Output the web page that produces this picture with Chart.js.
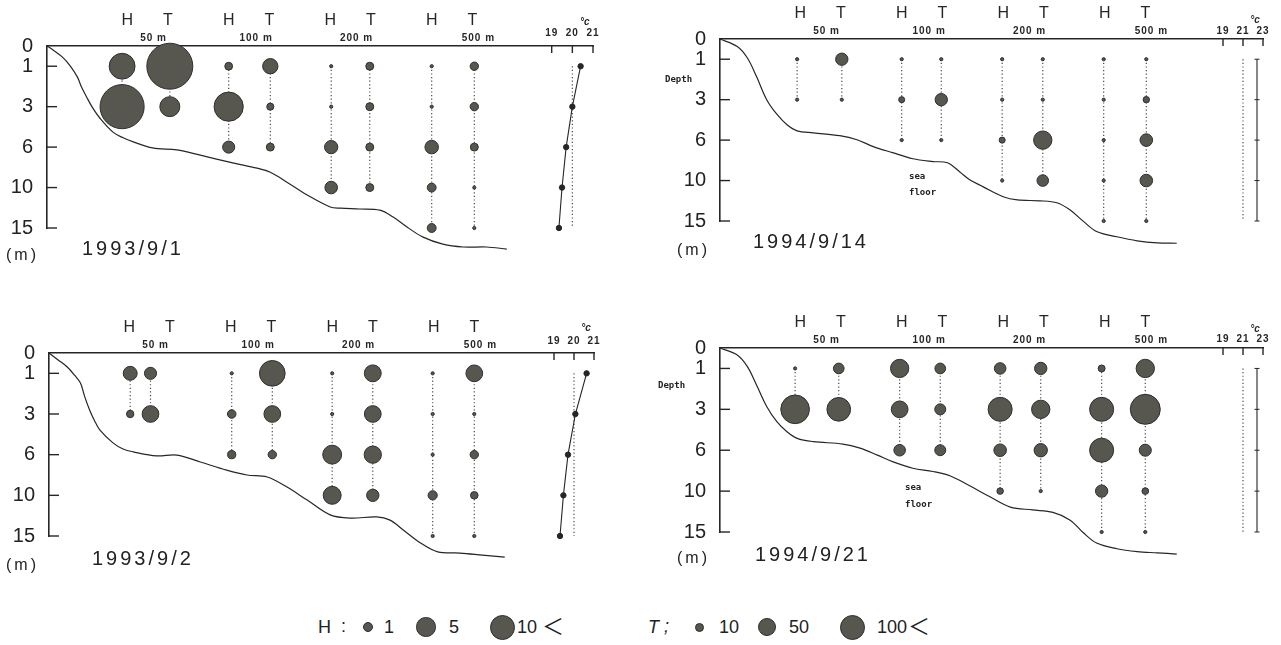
<!DOCTYPE html>
<html><head><meta charset="utf-8">
<script src="https://cdn.jsdelivr.net/npm/chart.js@4.4.1/dist/chart.umd.min.js"></script>
<style>
html,body{margin:0;padding:0;background:#fff;}
#wrap{position:relative;width:1281px;height:645px;overflow:hidden;background:#fff;font-family:Arial,"Liberation Sans",sans-serif;color:#222;}
canvas{position:absolute;}
.t{position:absolute;white-space:nowrap;line-height:1;}
.date{font-size:20px;letter-spacing:3px;}
.unit{font-size:16px;letter-spacing:3px;}
.small{font-family:"DejaVu Sans Mono",monospace;font-weight:bold;font-size:9px;}
.lg{font-size:18px;}
.cjk{font-family:"Noto Sans CJK JP","Noto Sans CJK SC",sans-serif;font-size:22px;}
.it{font-style:italic;}
.dot{position:absolute;border-radius:50%;background:#57574f;border:1px solid #2e2e2e;box-sizing:border-box;}
</style></head><body><div id="wrap">
<canvas id="c1" width="640" height="300" style="left:0;top:0"></canvas>
<canvas id="c2" width="641" height="300" style="left:640px;top:0"></canvas>
<canvas id="c3" width="640" height="300" style="left:0;top:300px"></canvas>
<canvas id="c4" width="641" height="300" style="left:640px;top:300px"></canvas>
</div>
<script>
// ---------------- data ----------------
const DEPTH_TICKS = [0, 1, 3, 6, 10, 15];            // m
const SAMPLE_DEPTHS = [1, 3, 6, 10, 15];             // m
const STATION_LABELS = ['50 m', '100 m', '200 m', '500 m'];
const STATION_DEPTH_COUNT = [2, 3, 4, 5];            // sampled depths per station
const DATES = ['1993/9/1', '1994/9/14', '1993/9/2', '1994/9/21'];
const TEMP_TICKS_93 = [19, 20, 21];
const TEMP_TICKS_94 = [19, 21, 23];
const LEGEND_H = ['1', '5', '10'];
const LEGEND_T = ['10', '50', '100'];

// 1993/9/1  (H and T abundance by station x depth)
const H_930901 = [[11, 32], [1, 14, 2.4], [0, 0, 2.9, 2.6], [0, 0, 3, 1.3, 1.3]];
const T_930901 = [[333, 63], [37, 8, 10], [10, 10, 10, 10], [11, 11, 10, 0, 0]];
const TEMP_930901 = [20.4, 20.0, 19.7, 19.5, 19.35];
const FLOOR_POS_930901 = [0, .06, .15, .23, .30, .34, .39, .45, .52, .65, .75, .85, 1.04, 1.28, 1.51, 1.83, 2.07, 2.20, 2.36, 2.56, 2.79, 2.89, 3.08, 3.28, 3.41, 3.55, 3.70, 3.90, 4.10, 4.33, 4.53];
const FLOOR_DEPTH_930901 = [0, .2, .54, .99, 1.54, 2.03, 2.52, 3.09, 3.84, 4.89, 5.31, 5.61, 6.08, 6.28, 6.8, 7.56, 8.08, 8.48, 9.44, 10.9, 12.4, 12.55, 12.65, 12.8, 13.65, 14.9, 16.1, 17.0, 17.35, 17.35, 17.6];

// 1994/9/14
const H_940914 = [[0, 0], [0, 0.6, 0], [0, 0, 0.6, 0], [0, 0, 0, 0, 0]];
const T_940914 = [[24, 0], [0, 24, 0], [0, 0, 53, 21], [0, 6.4, 25, 25, 0]];
const TEMP_940914 = [22.4, 22.4, 22.4, 22.4, 22.4];
const FLOOR_POS_940914 = [0, .17, .27, .36, .46, .56, .66, .76, .92, 1.18, 1.35, 1.51, 1.70, 1.90, 2.10, 2.24, 2.36, 2.46, 2.59, 2.79, 2.93, 3.15, 3.32, 3.45, 3.58, 3.71, 3.91, 4.11, 4.31, 4.50];
const FLOOR_DEPTH_940914 = [0, .37, .94, 1.86, 3.0, 4.08, 4.86, 5.31, 5.46, 5.67, 5.97, 6.64, 7.24, 7.84, 8.12, 8.24, 9.12, 9.92, 10.75, 12.0, 12.4, 12.5, 12.75, 13.65, 15.05, 16.3, 16.95, 17.45, 17.7, 17.75];

// 1993/9/2
const H_930902 = [[3.2, 0.9], [0, 1.2, 1.1], [0, 0, 5.9, 5.3], [0, 0, 0, 1.4, 0]];
const T_930902 = [[23, 44], [104, 44, 11], [45, 44, 47, 24], [44, 0, 11, 9, 0]];
const TEMP_930902 = [20.63, 20.07, 19.7, 19.47, 19.3];
const FLOOR_POS_930902 = [0, .09, .18, .25, .31, .35, .40, .45, .50, .63, .73, .83, 1.06, 1.26, 1.49, 1.75, 1.95, 2.15, 2.34, 2.54, 2.77, 2.97, 3.23, 3.36, 3.49, 3.66, 3.83, 4.05, 4.27, 4.49];
const FLOOR_DEPTH_930902 = [0, .34, .69, 1.08, 1.48, 2.12, 2.8, 3.51, 4.17, 5.13, 5.58, 5.79, 6.12, 6.04, 6.72, 7.52, 8.0, 8.2, 9.16, 10.55, 12.4, 12.8, 12.65, 13.05, 14.25, 15.85, 16.95, 17.1, 17.35, 17.6];

// 1994/9/21
const H_940921 = [[0, 13.5], [5.5, 4.6, 2.2], [2.2, 9.5, 2.6, 0.7], [0.8, 9.5, 9.5, 2.5, 0]];
const T_940921 = [[18, 88], [18, 19, 19], [24, 53, 28, 0], [53, 142, 23, 7, 0]];
const TEMP_940921 = [22.4, 22.4, 22.4, 22.4, 22.4];
const FLOOR_POS_940921 = [0, .17, .27, .36, .46, .56, .66, .76, .92, 1.21, 1.38, 1.55, 1.70, 1.90, 2.10, 2.27, 2.46, 2.66, 2.86, 3.08, 3.28, 3.45, 3.58, 3.71, 3.91, 4.11, 4.31, 4.50];
const FLOOR_DEPTH_940921 = [0, .34, .91, 1.81, 2.86, 3.9, 4.65, 5.13, 5.37, 5.55, 5.85, 6.48, 7.12, 7.76, 8.08, 8.52, 9.48, 10.7, 11.95, 12.3, 12.6, 13.55, 15.1, 16.35, 17.05, 17.4, 17.55, 17.7];

// ---------------- styles / layout ----------------
const INK = '#262626', FILL = '#57574f', EDGE = '#2e2e2e', DOTC = '#4a4a4a';
const DEPTH_LEVELS = [0, 0.5, 1.5, 2.5, 3.5, 4.5]; // axis spacing of DEPTH_TICKS
const DIST_LABEL_POS = [1.05, 2.06, 3.05, 4.25];
const PX_PER_UNIT = 101.5;

function depthToLevel(d) {
  const T = DEPTH_TICKS, L = DEPTH_LEVELS;
  for (let i = 1; i < T.length; i++) {
    if (d <= T[i]) return L[i-1] + (d - T[i-1]) / (T[i] - T[i-1]) * (L[i] - L[i-1]);
  }
  const n = T.length - 1;
  return L[n] + (d - T[n]) / (T[n] - T[n-1]) * (L[n] - L[n-1]);
}
function levelToDepth(l) {
  const T = DEPTH_TICKS, L = DEPTH_LEVELS;
  for (let i = 1; i < L.length; i++) {
    if (l <= L[i]) return T[i-1] + (l - L[i-1]) / (L[i] - L[i-1]) * (T[i] - T[i-1]);
  }
  const n = L.length - 1;
  return T[n] + (l - L[n]) / (L[n] - L[n-1]) * (T[n] - T[n-1]);
}
class DepthScale extends Chart.LinearScale {
  static id = 'depth';
  static defaults = Chart.LinearScale.defaults;
  buildTicks() { return DEPTH_TICKS.map(v => ({value: v})); }
  getPixelForValue(v) {
    if (v === null || v === undefined) return NaN;
    return this.getPixelForDecimal(depthToLevel(v) / depthToLevel(15));
  }
  getValueForPixel(p) { return levelToDepth(this.getDecimalForPixel(p) * depthToLevel(15)); }
}
Chart.register(DepthScale);
Chart.defaults.font.family = 'Arial, "Liberation Sans", sans-serif';

function radius(kind, v) {
  if (!v) return 1.6;
  return (kind === 'H' ? 3.9 : 1.26) * Math.sqrt(v);
}

const PANELS = [
  {id: 'c1', w: 640, h: 300, area: {l: 47, t: 46, r: 593, b: 228}, H: H_930901, T: T_930901, temp: TEMP_930901,
   fx: FLOOR_POS_930901, fd: FLOOR_DEPTH_930901, tticks: TEMP_TICKS_93, tMin: -5.44, tDy: 12.5, degDy: 24, tempDots: true,
   cols: [[0.74, 1.21], [1.79, 2.20], [2.80, 3.18], [3.79, 4.21]]},
  {id: 'c2', w: 641, h: 300, area: {l: 80, t: 39, r: 623, b: 221}, H: H_940914, T: T_940914, temp: TEMP_940914,
   fx: FLOOR_POS_940914, fd: FLOOR_DEPTH_940914, tticks: TEMP_TICKS_94, tMin: -31.3, tDy: 8, degDy: 19, tempDots: false,
   cols: [[0.76, 1.20], [1.79, 2.18], [2.78, 3.18], [3.78, 4.20]]},
  {id: 'c3', w: 640, h: 300, area: {l: 49, t: 53, r: 594, b: 236}, H: H_930902, T: T_930902, temp: TEMP_930902,
   fx: FLOOR_POS_930902, fd: FLOOR_DEPTH_930902, tticks: TEMP_TICKS_93, tMin: -6.25, tDy: 12, degDy: 25, tempDots: true,
   cols: [[0.80, 1.00], [1.80, 2.20], [2.79, 3.19], [3.78, 4.19]]},
  {id: 'c4', w: 641, h: 300, area: {l: 80, t: 48, r: 623, b: 232}, H: H_940921, T: T_940921, temp: TEMP_940921,
   fx: FLOOR_POS_940921, fd: FLOOR_DEPTH_940921, tticks: TEMP_TICKS_94, tMin: -31.3, tDy: 9, degDy: 19, tempDots: false,
   cols: [[0.74, 1.17], [1.77, 2.17], [2.76, 3.16], [3.76, 4.19]]}
];

const decor = {
  id: 'decor',
  afterDraw(chart, args, o) {
    const {ctx, chartArea: ca} = chart;
    const {x, y, xt} = chart.scales;
    ctx.save();
    ctx.strokeStyle = INK; ctx.fillStyle = INK; ctx.lineWidth = 1.4;
    const seg = (x1, y1, x2, y2) => { ctx.beginPath(); ctx.moveTo(x1, y1); ctx.lineTo(x2, y2); ctx.stroke(); };
    DEPTH_TICKS.slice(1).forEach(d => { const py = y.getPixelForValue(d); seg(ca.left, py, ca.left + 10, py); });
    ctx.textAlign = 'center'; ctx.textBaseline = 'middle';
    ctx.font = '16px Arial, "Liberation Sans", sans-serif';
    STATION_LABELS.forEach((s, i) => {
      ctx.fillText('H', x.getPixelForValue(i + 1 - 0.21), ca.top - 25.5);
      ctx.fillText('T', x.getPixelForValue(i + 1 + 0.19), ca.top - 25.5);
    });
    ctx.font = 'bold 10px Arial, "Liberation Sans", sans-serif';
    ctx.letterSpacing = '1px';
    STATION_LABELS.forEach((s, i) => ctx.fillText(s, x.getPixelForValue(DIST_LABEL_POS[i]), ca.top - 8));
    o.tticks.forEach(t => {
      const px = xt.getPixelForValue(t);
      seg(px, ca.top, px, ca.top + 7);
      ctx.fillText(String(t), px, ca.top - o.tDy);
    });
    ctx.letterSpacing = '0px';
    ctx.font = 'italic bold 10px Arial, "Liberation Sans", sans-serif';
    ctx.fillText('°c', xt.getPixelForValue(o.tticks[1] + 0.6 * (o.tticks[2] - o.tticks[1])), ca.top - o.degDy);
    ctx.restore();
  }
};

function buildDatasets(p) {
  const ds = [];
  ds.push({data: p.fx.map((x, i) => ({x, y: p.fd[i]})), showLine: true, borderColor: INK, borderWidth: 1.2,
           pointRadius: 0, tension: 0.35, clip: false, order: 5});
  STATION_LABELS.forEach((s, i) => {
    const n = STATION_DEPTH_COUNT[i];
    ['H', 'T'].forEach((kind, j) => {
      const x = p.cols[i][j];
      ds.push({data: [{x, y: SAMPLE_DEPTHS[0]}, {x, y: SAMPLE_DEPTHS[n - 1]}], showLine: true, borderColor: DOTC,
               borderWidth: 1.2, borderDash: [1.2, 2.4], pointRadius: 0, clip: false, order: 4});
      const vals = (kind === 'H' ? p.H : p.T)[i];
      ds.push({data: vals.map((v, k) => ({x, y: SAMPLE_DEPTHS[k], v})), showLine: false,
               pointRadius: c => radius(kind, c.raw ? c.raw.v : 0), backgroundColor: FILL, borderColor: EDGE,
               borderWidth: 1, clip: false, order: 1});
    });
  });
  const ref = p.tticks[1];
  ds.push({xAxisID: 'xt', data: [{x: ref, y: SAMPLE_DEPTHS[0]}, {x: ref, y: SAMPLE_DEPTHS[4]}], showLine: true,
           borderColor: DOTC, borderWidth: 1.2, borderDash: [1.2, 2.4], pointRadius: 0, clip: false, order: 4});
  ds.push({xAxisID: 'xt', data: p.temp.map((t, k) => ({x: t, y: SAMPLE_DEPTHS[k]})), showLine: true,
           borderColor: INK, borderWidth: 1.1, pointRadius: p.tempDots ? 2.7 : 2.5,
           pointStyle: p.tempDots ? 'circle' : 'line', backgroundColor: INK, pointBorderColor: INK,
           pointBorderWidth: 1, clip: false, order: 3});
  return ds;
}

PANELS.forEach(p => {
  const a = p.area;
  new Chart(document.getElementById(p.id), {
    type: 'scatter',
    data: {datasets: buildDatasets(p)},
    plugins: [decor],
    options: {
      responsive: false, animation: false, events: [], devicePixelRatio: 1,
      layout: {padding: {left: 0, top: 0, right: p.w - a.r, bottom: p.h - a.b}},
      plugins: {legend: {display: false}, tooltip: {enabled: false}, decor: {tticks: p.tticks, tDy: p.tDy, degDy: p.degDy}},
      scales: {
        x: {type: 'linear', position: 'top', min: 0, max: (a.r - a.l) / PX_PER_UNIT,
            afterFit: s => { s.height = a.t; },
            ticks: {display: false}, grid: {display: false, drawTicks: false},
            border: {display: true, color: INK, width: 1.6}},
        xt: {type: 'linear', position: 'top', display: false, min: p.tMin, max: p.tticks[2]},
        y: {type: 'depth', reverse: true, min: 0, max: 15,
            afterFit: s => { s.width = a.l; },
            ticks: {autoSkip: false, padding: 14, color: '#222', font: {size: 20}, callback: v => String(v)},
            grid: {display: false, drawTicks: false},
            border: {display: true, color: INK, width: 1.6}}
      }
    }
  });
});

// ---------------- html texts ----------------
const wrap = document.getElementById('wrap');
function addText(txt, cls, left, top) {
  const d = document.createElement('div'); d.className = 't ' + cls; d.textContent = txt;
  d.style.left = left + 'px'; d.style.top = top + 'px'; wrap.appendChild(d);
}
function addDot(cx, cy, r) {
  const d = document.createElement('div'); d.className = 'dot';
  d.style.left = (cx - r) + 'px'; d.style.top = (cy - r) + 'px';
  d.style.width = (2 * r) + 'px'; d.style.height = (2 * r) + 'px'; wrap.appendChild(d);
}
addText(DATES[0], 'date', 82, 238); addText('(m)', 'unit', 6, 247);
addText(DATES[1], 'date', 753, 231); addText('(m)', 'unit', 677, 242);
addText(DATES[2], 'date', 92, 548); addText('(m)', 'unit', 6, 557);
addText(DATES[3], 'date', 755, 544); addText('(m)', 'unit', 677, 550);
addText('Depth', 'small', 665, 75); addText('Depth', 'small', 658, 381);
addText('sea', 'small', 909, 172); addText('floor', 'small', 909, 188);
addText('sea', 'small', 905, 483); addText('floor', 'small', 905, 500);

// legend
const LG_Y = 627;
addText('H', 'lg', 318, LG_Y - 9); addText(':', 'lg', 341, LG_Y - 10);
const hDots = [[368, 5.3], [426, 9.7], [502, 12.5]], hText = [384, 449, 517];
LEGEND_H.forEach((s, i) => { addDot(hDots[i][0], LG_Y, hDots[i][1]); addText(s, 'lg', hText[i], LG_Y - 9); });
addText('＜', 'cjk', 542, LG_Y - 14);
addText('T', 'lg it', 648, LG_Y - 9); addText(';', 'lg it', 664, LG_Y - 10);
const tDots = [[699, 4.5], [767, 9], [852, 12.5]], tText = [719, 789, 877];
LEGEND_T.forEach((s, i) => { addDot(tDots[i][0], LG_Y, tDots[i][1]); addText(s, 'lg', tText[i], LG_Y - 9); });
addText('＜', 'cjk', 908, LG_Y - 14);
</script>
</body></html>
